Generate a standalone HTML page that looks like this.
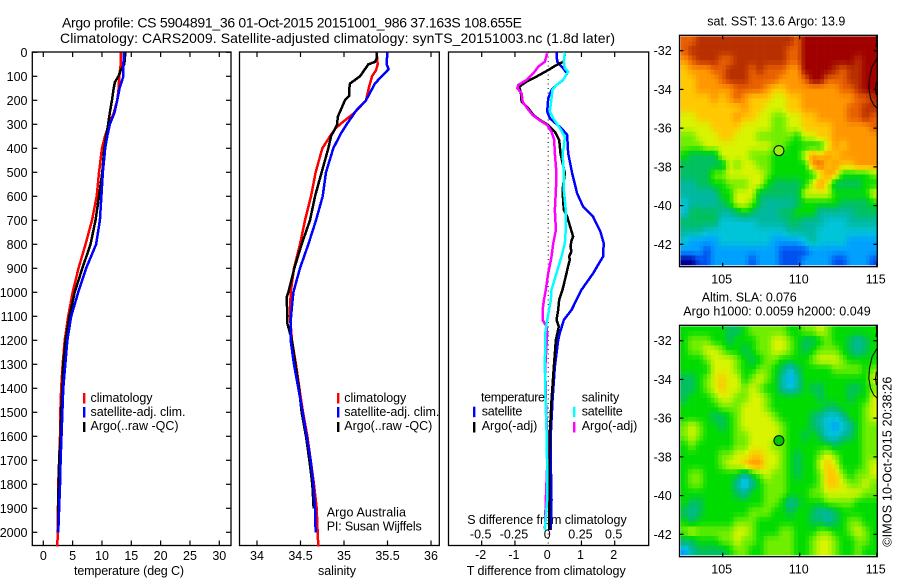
<!DOCTYPE html>
<html>
<head>
<meta charset="utf-8">
<title>Argo profile</title>
<style>
html,body{margin:0;padding:0;background:#fff;}
svg{display:block;}
text{font-family:"Liberation Sans",sans-serif;font-size:12.5px;fill:#000;}
.title{font-size:14px;}
</style>
</head>
<body>
<svg id="root" xmlns="http://www.w3.org/2000/svg" width="900" height="580" viewBox="0 0 900 580">
  <text class="title" x="62" y="27.5" textLength="460" lengthAdjust="spacing">Argo profile: CS 5904891_36 01-Oct-2015 20151001_986 37.163S 108.655E</text>
  <text class="title" x="60" y="43" textLength="555" lengthAdjust="spacing">Climatology: CARS2009. Satellite-adjusted climatology: synTS_20151003.nc (1.8d later)</text>

  <text x="74" y="575" textLength="110" lengthAdjust="spacing">temperature (deg C)</text>
  <text x="318" y="575" textLength="38" lengthAdjust="spacing">salinity</text>
  <text x="466.7" y="575" textLength="159" lengthAdjust="spacing">T difference from climatology</text>
  <text x="467.3" y="524" textLength="159.4" lengthAdjust="spacing">S difference from climatology</text>

  <text x="326.7" y="516.7" textLength="79.3" lengthAdjust="spacing">Argo Australia</text>
  <text x="326.7" y="530.7" textLength="95" lengthAdjust="spacing">PI: Susan Wijffels</text>

  <text x="707.3" y="25.7" textLength="138" lengthAdjust="spacing">sat. SST: 13.6 Argo: 13.9</text>
  <text x="701.7" y="301.7" textLength="95" lengthAdjust="spacing">Altim. SLA: 0.076</text>
  <text x="683.3" y="315.7" textLength="187.4" lengthAdjust="spacing">Argo h1000: 0.0059 h2000: 0.049</text>
  <text transform="translate(891.7,546.7) rotate(-90)" x="0" y="0" textLength="170" lengthAdjust="spacing">©IMOS 10-Oct-2015 20:38:26</text>

  <g>
    <rect x="83" y="393" width="2.4" height="10.5" fill="#f00"/>
    <rect x="83" y="407" width="2.4" height="10.5" fill="#00f"/>
    <rect x="83" y="422" width="2.4" height="10" fill="#000"/>
    <text x="90.5" y="402" textLength="62" lengthAdjust="spacing">climatology</text>
    <text x="90.5" y="416" textLength="95" lengthAdjust="spacing">satellite-adj. clim.</text>
    <text x="90.5" y="430" textLength="88" lengthAdjust="spacing">Argo(..raw -QC)</text>
  </g>
  <g>
    <rect x="337" y="393" width="2.4" height="10.5" fill="#f00"/>
    <rect x="337" y="407" width="2.4" height="10.5" fill="#00f"/>
    <rect x="337" y="422" width="2.4" height="10" fill="#000"/>
    <text x="344.3" y="402" textLength="62" lengthAdjust="spacing">climatology</text>
    <text x="344.3" y="416" textLength="95" lengthAdjust="spacing">satellite-adj. clim.</text>
    <text x="344.3" y="430" textLength="88" lengthAdjust="spacing">Argo(..raw -QC)</text>
  </g>
  <g id="overlay-legend"></g>
</svg>

<script>
/* ---------- profile data ---------- */
const depthTicks = [0,100,200,300,400,500,600,700,800,900,1000,1100,1200,1300,1400,1500,1600,1700,1800,1900,2000];
const tempTicks = [0,5,10,15,20,25,30];
const salTicks = [34,34.5,35,35.5,36];
const salTickLabels = ['34','34.5','35','35.5','36'];
const tDiffTicks = [-2,-1,0,1,2];
const sDiffTicks = [-0.5,-0.25,0,0.25,0.5];
const sDiffLabels = ['-0.5','-0.25','0','0.25','0.5'];
const lonTicks = [105,110,115];
const latTicks = [-32,-34,-36,-38,-40,-42];

const tempClimDepth = [0,50,100,150,200,250,300,350,400,500,600,700,800,900,1000,1100,1200,1300,1400,1500,1600,1700,1800,1900,2000,2060];
const tempClim = [13.2,13.2,12.95,12.85,12.6,12.05,11.25,10.5,10.0,9.5,9.1,8.3,7.2,6.0,5.0,4.25,3.65,3.3,3.05,2.9,2.85,2.7,2.55,2.5,2.45,2.4];
const tempSatDepth = [0,50,100,150,200,250,300,350,400,500,600,700,800,900,1000,1100,1200,1300,1400,1500,1600,1700,1800,1900,2000];
const tempSat = [13.75,13.65,13.65,13.0,12.6,12.15,11.35,10.9,10.55,10.15,9.9,9.65,9.0,7.3,5.95,4.75,4.1,3.75,3.4,3.25,3.1,2.95,2.85,2.7,2.55];
const tempArgoDepth = [0,50,75,100,125,150,200,250,300,350,400,500,600,700,800,900,1000,1100,1200,1300,1400,1500,1600,1700,1800,1900,2000];
const tempArgo = [14.0,13.8,13.2,12.8,12.2,12.0,11.7,11.35,11.05,10.7,10.4,10.05,9.5,8.9,8.05,6.65,5.35,4.45,3.8,3.4,3.25,3.05,2.95,2.7,2.6,2.55,2.5];

const salClimDepth = [0,50,75,100,150,200,250,300,320,350,400,500,600,700,800,900,1000,1100,1200,1300,1400,1500,1600,1700,1800,1900,2000,2060];
const salClim = [35.375,35.387,35.368,35.322,35.284,35.253,35.126,34.954,34.897,34.839,34.751,34.674,34.621,34.552,34.494,34.425,34.387,34.379,34.402,34.448,34.487,34.529,34.579,34.617,34.655,34.686,34.697,34.705];
const salSatDepth = [0,50,70,100,130,200,240,300,340,400,500,600,700,800,900,1000,1100,1200,1300,1400,1500,1600,1700,1800,1900,2000];
const salSat = [35.498,35.49,35.513,35.433,35.356,35.253,35.146,35.031,34.962,34.877,34.793,34.755,34.678,34.59,34.494,34.418,34.391,34.387,34.425,34.475,34.525,34.571,34.617,34.648,34.667,34.674];
const salArgoDepth = [0,25,40,50,100,130,150,180,200,270,300,350,400,500,600,700,800,900,1000,1020,1100,1130,1200,1300,1400,1500,1600,1700,1800,1900];
const salArgo = [35.375,35.375,35.356,35.28,35.184,35.069,35.061,35.061,35.011,34.927,34.923,34.851,34.82,34.743,34.667,34.609,34.513,34.429,34.36,34.341,34.349,34.349,34.402,34.441,34.483,34.513,34.563,34.602,34.636,34.651];

const tDiffSatDepth = [0,39,67,88,115,136,157,192,247,275,317,344,421,504,588,643,685,747,796,851,921,990,1074,1115,1170,1199,1310,1449,1586,1727,1865,1990];
const tDiffSat = [.25,.27,.45,.57,.45,.25,.10,0,-.03,.05,.40,.57,.60,.72,.87,1.05,1.35,1.57,1.67,1.65,1.35,1.0,.70,.47,.35,.30,.20,.13,.08,.08,.10,.08];
const tDiffArgoDepth = [4,39,53,74,101,122,143,171,206,233,261,282,303,331,365,421,504,574,657,685,768,785,810,830,850,865,890,921,990,1032,1074,1115,1143,1199,1310,1449,1586,1727,1990];
const tDiffArgo = [.50,.47,.25,0,-.35,-.65,-.87,-.82,-.80,-.60,-.45,-.25,0,.20,.33,.37,.50,.43,.47,.57,.75,.70,.67,.70,.63,.65,.60,.55,.43,.33,.30,.25,.32,.23,.17,.10,.05,.03,.03];
const sDiffSatDepth = [0,39,67,81,115,136,157,192,247,275,317,351,393,421,504,574,657,740,796,851,921,990,1032,1115,1170,1310,1449,1586,1727,1865,1990];
const sDiffSat = [.125,.118,.125,.15,.112,.062,.032,.025,.012,.038,.088,.125,.118,.108,.118,.118,.132,.132,.125,.10,.062,.025,.02,-.008,-.022,-.025,-.02,-.012,-.008,-.008,-.025];
const sDiffArgoDepth = [4,39,60,88,115,136,150,171,206,233,261,282,303,331,365,421,504,574,657,740,796,851,921,990,1032,1074,1115,1143,1170,1310,1449,1586,1727,1865,1990];
const sDiffArgo = [-.008,-.025,-.075,-.112,-.162,-.225,-.232,-.20,-.192,-.158,-.118,-.068,-.008,.025,.045,.05,.062,.058,.05,.058,.038,.025,0,-.018,-.032,-.042,-.042,-.012,-.008,-.022,-.018,-.008,-.008,-.018,-.025];

/* ---------- map data: colour level per grid cell (hex digit), north to south ---------- */
const sstLevels = [
"bbcccccccccccccbdddddddddd",
"bcccccccccccccbbdddddddddd",
"abcccbbcccccccbbdddddddcdd",
"9aaabbcccbcbbbaaddddcbccdd",
"99aaabcccbbbbaaabddbbbccdd",
"99aaaaabbbba99aaaaaaabbcdd",
"9999a9aba9998899aaaaaaabbc",
"99999999a9988899aaaaaabbcc",
"8899999a9988778899aaaabbcb",
"88889999888877889999aaaaab",
"77888998887777768899aaaaaa",
"77788888888877666668a9aaaa",
"65555888877766668a9a9aaaaa",
"55555587887766666ab9a99aaa",
"5555778888876666668a966667",
"44556677788655556" + "8a8" + "5555" + "66",
"44444668885555558888666668",
"34444568875444456666655556",
"35555445654445566644444555",
"55555333334444554443334444",
"44433333333333444433333333",
"32222333333322223433332222",
"22212222222221111222222222",
"00112222212221112222112221"
];
const slaLevels = [
"66666655677777667787666666",
"67776656667788765567665456",
"67788766567788765677765456",
"66678887656776666788876666",
"66668887667765356666777767",
"55678988678764246666666668",
"55678988787664346556665567",
"56667887788766666656665668",
"66666777888766666665566678",
"66665567888876666543346678",
"78766567888887666543234677",
"78766667788887665653345677",
"67666667788877666666566677",
"66666778899887656678766677",
"666667889aa887656689866678",
"67766666467877656679976778",
"67766664246777666679987787",
"66666665466777666778888877",
"65566666666776456667777666",
"54566666677766566544566666",
"65666667776666666554567766",
"78777778876667766677667876",
"55666778776777766788766776",
"24555567766777766788766766"
];
const coastArc = [[115.03,-32.39],[114.7,-32.83],[114.53,-33.43],[114.49,-33.94],[114.6,-34.46],[114.81,-34.8],[115.07,-35.0]];
const coastNorth = [[114.97,-31.25],[115.0,-31.55],[114.95,-31.8]];
const coastIsland = [[114.98,-33.6],[114.92,-33.95],[114.98,-34.3]];
const argoLon = 108.65;
const argoLat = -37.16;
const levelColors = ['#000090','#0050f0','#00a0ff','#00c4d8','#00b8a0','#00c060','#00dc00','#70ee00','#d8f400','#ffc800','#ff9800','#e86000','#b83000','#a00000'];

/* ---------- helpers ---------- */
const NS = 'http://www.w3.org/2000/svg';
const root = document.getElementById('root');
function mk(tag, parent, props){
  const e = document.createElementNS(NS, tag);
  for (const k in props) e.setAttribute(k, props[k]);
  parent.appendChild(e);
  return e;
}
function linear(d0,d1,r0,r1){ return v => r0 + (v-d0)*(r1-r0)/(d1-d0); }
function group(parent){ return mk('g', parent, {}); }

const yDepth = linear(0,2000,52.3,532.3);
const xTemp = linear(0,30,43.3,219.3);
const xSal = linear(34,36,257,431);
const xTDiff = linear(-2,2,481.7,614.7);
const xSDiff = linear(-0.5,0.5,481.7,614.7);
const xLon = linear(105,115,722.7,876.7);
const ySst = linear(-32,-42,50.7,244.3);
const ySla = linear(-32,-42,340.7,534.3);

const panelTop = 52, panelBottom = 545.5;

function frame(parent,x,y,w,h){
  const r = mk('rect', parent, {x:x,y:y,width:w,height:h,fill:'none',stroke:'#000','stroke-width':1.3});
  
  
}
function tick(parent,x1,y1,x2,y2){
  const t = mk('line', parent, {x1:x1,y1:y1,x2:x2,y2:y2,stroke:'#000','stroke-width':1.2});
  
  
}
function label(parent,str,x,y,anchor){
  const t = mk('text', parent, {x:x,y:y,'text-anchor':anchor});
  t.textContent = str;
  
  
}
function profile(parent,depths,values,xf,color,width,name){
  const pts = depths.map((d,i)=> xf(values[i]).toFixed(2)+','+yDepth(d).toFixed(2)).join(' ');
  const p = mk('polyline', parent, {points:pts,fill:'none',stroke:color,'stroke-width':width,'stroke-linejoin':'round','shape-rendering':'crispEdges'});
  
  
}
function panel(name,x0,x1,ticks,labels,xf,labelY,yTicks){
  const g = group(root);
  
  
  frame(g,x0,panelTop,x1-x0,panelBottom-panelTop);
  ticks.forEach((v,i)=>{
    const x = xf(v);
    tick(g,x,panelTop,x,panelTop+5);
    tick(g,x,panelBottom,x,panelBottom-5);
    if (labels) label(g,labels[i],x,labelY,'middle');
  });
  if (yTicks) depthTicks.forEach(d=>{
    const y = yDepth(d);
    tick(g,x0,y,x0+5,y);
    tick(g,x1,y,x1-5,y);
    label(g,String(d),27.5,y+4.5,'end');
  });
  return g;
}

/* ---------- profile panels ---------- */
const lineWidth = 2.5;
const p1 = panel('temperature-panel',32.3,231,tempTicks,tempTicks.map(String),xTemp,560,true);
profile(p1,tempClimDepth,tempClim,xTemp,'#f00',lineWidth,'temperature-climatology-line');
profile(p1,tempArgoDepth,tempArgo,xTemp,'#000',lineWidth,'temperature-argo-line');
profile(p1,tempSatDepth,tempSat,xTemp,'#00f',lineWidth,'temperature-satellite-line');

const p2 = panel('salinity-panel',239.5,439.3,salTicks,salTickLabels,xSal,560,false);
profile(p2,salClimDepth,salClim,xSal,'#f00',lineWidth,'salinity-climatology-line');
profile(p2,salArgoDepth,salArgo,xSal,'#000',lineWidth,'salinity-argo-line');
profile(p2,salSatDepth,salSat,xSal,'#00f',lineWidth,'salinity-satellite-line');

const p3 = panel('difference-panel',448.5,648.7,tDiffTicks.filter(v=>v!==0),null,xTDiff,559,false);
tDiffTicks.forEach(v=>label(p3,String(v),xTDiff(v)-1,559,'middle'));
sDiffTicks.forEach((v,i)=>label(p3,sDiffLabels[i],xSDiff(v)-1,538.7,'middle'));
const zero = mk('line', p3, {x1:xTDiff(0),y1:panelTop,x2:xTDiff(0),y2:panelBottom,stroke:'#000','stroke-width':1,'stroke-dasharray':'1 3.5'});


profile(p3,tDiffSatDepth,tDiffSat,xTDiff,'#00f',lineWidth,'t-diff-satellite-line');
profile(p3,tDiffArgoDepth,tDiffArgo,xTDiff,'#000',lineWidth,'t-diff-argo-line');
profile(p3,sDiffArgoDepth,sDiffArgo,xSDiff,'#f0f',lineWidth,'s-diff-argo-line');
profile(p3,sDiffSatDepth,sDiffSat,xSDiff,'#0ff',lineWidth,'s-diff-satellite-line');

/* legend of the difference panel sits above the lines */
const lg = document.getElementById('overlay-legend');
root.appendChild(lg);
const lgText = [['temperature',481,401.7,64],['satellite',481.7,415.7,40.6],['Argo(-adj)',481.7,430,55.6],['salinity',581.7,401.7,37.6],['satellite',581.7,415.7,41],['Argo(-adj)',581.7,430,55.6]];
lgText.forEach(r=>{
  const t = mk('text', lg, {x:r[1],y:r[2],textLength:r[3],lengthAdjust:'spacing'});
  t.textContent = r[0];
  
  
});
const lgSw = [[473,406.7,'#00f'],[473,422,'#000'],[573,406.7,'#0ff'],[573,422,'#f0f']];
lgSw.forEach(r=>{
  const s = mk('rect', lg, {x:r[0],y:r[1],width:2.4,height:10.5,fill:r[2]});
  
  
});

/* ---------- maps ---------- */
const lonW = 102.26, lonE = 115.02, latN = -31.26, latS = -43.07;
function color(level){
  const c = Math.max(0,Math.min(levelColors.length-1,level));
  const i = Math.min(levelColors.length-2,Math.floor(c));
  const f = c-i;
  const ch = s => [1,3,5].map(k=>parseInt(s.substr(k,2),16));
  const A = ch(levelColors[i]), B = ch(levelColors[i+1]);
  return 'rgb('+A.map((v,k)=>Math.round(v+(B[k]-v)*f)).join(',')+')';
}
function cellRect(g,x0,y0,x1,y1,fill){
  const r = mk('rect', g, {x:x0.toFixed(2),y:y0.toFixed(2),width:(x1-x0+0.3).toFixed(2),height:(y1-y0+0.3).toFixed(2),fill:fill});
  
  
}
function gridAt(levels,c,r){
  const rows = levels.length, cols = levels[0].length;
  const cl = Math.max(0,Math.min(cols-1,c)), rl = Math.max(0,Math.min(rows-1,r));
  const c0 = Math.floor(cl), r0 = Math.floor(rl);
  const c1 = Math.min(cols-1,c0+1), r1 = Math.min(rows-1,r0+1);
  const fx = cl-c0, fy = rl-r0;
  const v = (a,b)=>parseInt(levels[a][b],16);
  return (v(r0,c0)*(1-fx)+v(r0,c1)*fx)*(1-fy)+(v(r1,c0)*(1-fx)+v(r1,c1)*fx)*fy;
}
function drawGrid(g,levels,yf){
  const sub = 2, rows = levels.length, cols = levels[0].length;
  for (let j=0;j<rows*sub;j++){
    for (let i=0;i<cols*sub;i++){
      const x0 = xLon(lonW+(lonE-lonW)*i/(cols*sub)), x1 = xLon(lonW+(lonE-lonW)*(i+1)/(cols*sub));
      const y0 = yf(latN+(latS-latN)*j/(rows*sub)), y1 = yf(latN+(latS-latN)*(j+1)/(rows*sub));
      cellRect(g,x0,y0,x1,y1,color(gridAt(levels,(i+0.5)/sub-0.5,(j+0.5)/sub-0.5)));
    }
  }
}
function mapAxes(g,yf,top,bottom,labelY,circleFill,idx){
  const left = 679.5, right = 877.3;
  const clipId = 'clip'+idx;
  const defs = mk('defs', g, {});
  const cp = mk('clipPath', defs, {id:clipId});
  mk('rect', cp, {x:left,y:top,width:right-left,height:bottom-top});
  const cg = mk('g', g, {'clip-path':'url(#'+clipId+')'});
  
  
  [coastArc,coastNorth,coastIsland].forEach(line=>{
    mk('polyline', cg, {points:line.map(p=>xLon(p[0]).toFixed(2)+','+yf(p[1]).toFixed(2)).join(' '),fill:'none',stroke:'#000','stroke-width':1});
  });
  frame(g,left,top,right-left,bottom-top);
  lonTicks.forEach(v=>{
    tick(g,xLon(v),top,xLon(v),top+4);
    tick(g,xLon(v),bottom,xLon(v),bottom-4);
    label(g,String(v),xLon(v)-1,labelY,'middle');
  });
  latTicks.forEach(v=>{
    tick(g,left,yf(v),left+4,yf(v));
    tick(g,right,yf(v),right-4,yf(v));
    label(g,String(v),671.7,yf(v)+4.5,'end');
  });
  const c = mk('circle', g, {cx:xLon(argoLon),cy:yf(argoLat),r:5,fill:circleFill,stroke:'#000','stroke-width':1});
  
  
}

const sstG = group(root);


drawGrid(sstG,sstLevels,ySst);
mapAxes(sstG,ySst,35.3,266.7,283.3,'#98f010',1);

const slaG = group(root);


drawGrid(slaG,slaLevels,ySla);
mapAxes(slaG,ySla,325.3,556.7,573.3,'#00c800',2);
</script>
</body>
</html>
